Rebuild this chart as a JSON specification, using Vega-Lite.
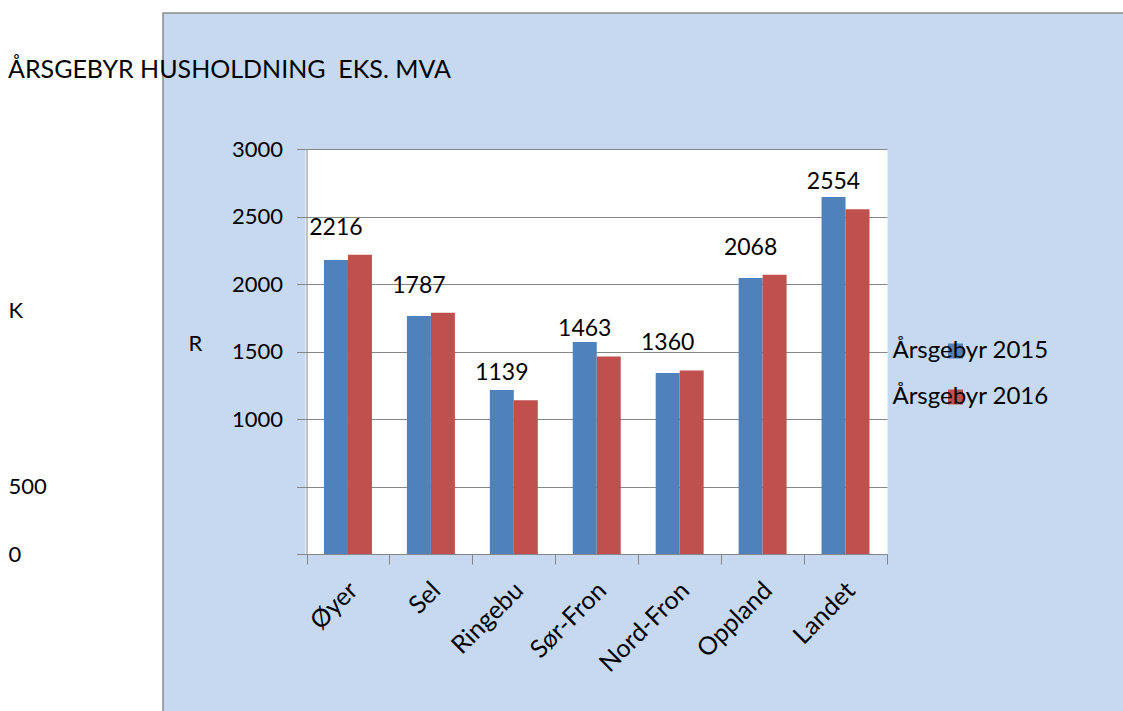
{
  "$schema": "https://vega.github.io/schema/vega-lite/v6.json",
  "autosize": "none",
  "padding": {"left": 163, "top": 13, "right": 0, "bottom": 0},
  "width": 961,
  "height": 699,
  "background": "white",
  "config": {
    "font": "Lato",
    "view": {"fill": "#c6d9f0", "stroke": "#8a8a8a", "strokeWidth": 1.5}
  },
  "title": {
    "text": "ÅRSGEBYR HUSHOLDNING \u00a0EKS. MVA",
    "anchor": "start",
    "frame": "group",
    "orient": "top",
    "offset": 0,
    "dx": -155,
    "dy": 82,
    "baseline": "middle",
    "fontSize": 25,
    "fontWeight": "normal",
    "color": "black",
    "font": "Lato"
  },
  "data": {
    "values": [
      {"kommune": "Øyer", "serie": "Årsgebyr 2015", "gebyr": 2178},
      {"kommune": "Øyer", "serie": "Årsgebyr 2016", "gebyr": 2216},
      {"kommune": "Sel", "serie": "Årsgebyr 2015", "gebyr": 1763},
      {"kommune": "Sel", "serie": "Årsgebyr 2016", "gebyr": 1787},
      {"kommune": "Ringebu", "serie": "Årsgebyr 2015", "gebyr": 1215},
      {"kommune": "Ringebu", "serie": "Årsgebyr 2016", "gebyr": 1139},
      {"kommune": "Sør-Fron", "serie": "Årsgebyr 2015", "gebyr": 1570},
      {"kommune": "Sør-Fron", "serie": "Årsgebyr 2016", "gebyr": 1463},
      {"kommune": "Nord-Fron", "serie": "Årsgebyr 2015", "gebyr": 1341},
      {"kommune": "Nord-Fron", "serie": "Årsgebyr 2016", "gebyr": 1360},
      {"kommune": "Oppland", "serie": "Årsgebyr 2015", "gebyr": 2044},
      {"kommune": "Oppland", "serie": "Årsgebyr 2016", "gebyr": 2068},
      {"kommune": "Landet", "serie": "Årsgebyr 2015", "gebyr": 2644},
      {"kommune": "Landet", "serie": "Årsgebyr 2016", "gebyr": 2554}
    ]
  },
  "layer": [
    {
      "mark": {"type": "bar"},
      "encoding": {
        "x": {
          "field": "kommune", "type": "nominal", "sort": null,
          "scale": {"domain": ["Øyer", "Sel", "Ringebu", "Sør-Fron", "Nord-Fron", "Oppland", "Landet"], "range": [143.5, 724], "paddingInner": 0, "paddingOuter": 0},
          "axis": {
            "orient": "bottom", "offset": -158, "tickBand": "extent", "tickSize": 10,
            "tickColor": "#868686", "domainColor": "#868686", "labelAngle": -45,
            "labelAlign": "right", "labelBaseline": "middle", "labelFontSize": 25,
            "labelColor": "black", "labelPadding": 22, "labelOffset": 5, "title": null, "grid": false
          }
        },
        "xOffset": {"field": "serie", "type": "nominal", "scale": {"paddingInner": 0, "paddingOuter": 0.729}},
        "y": {
          "field": "gebyr", "type": "quantitative",
          "scale": {"domain": [0, 3000], "range": [541, 136], "nice": false, "zero": true},
          "axis": {
            "orient": "left", "offset": -143.5, "values": [0, 500, 1000, 1500, 2000, 2500, 3000],
            "labelExpr": "datum.value >= 1000 ? datum.label : ''", "format": "d",
            "labelFontSize": 22, "labelColor": "black", "labelPadding": 14, "tickSize": 10,
            "tickColor": "#868686", "domainColor": "#868686", "grid": true, "gridColor": "#868686",
            "title": "R", "titleAngle": 0, "titleX": -118.5, "titleY": 330, "titleFontSize": 22,
            "titleFontWeight": "normal", "titleAlign": "left", "titleBaseline": "middle", "titleColor": "black"
          }
        },
        "color": {
          "field": "serie", "type": "nominal",
          "scale": {"domain": ["Årsgebyr 2015", "Årsgebyr 2016"], "range": ["#4f81bd", "#c0504d"]},
          "legend": {
            "orient": "none", "legendX": 780.5, "legendY": 326, "title": null,
            "symbolType": "square", "symbolSize": 225, "symbolStrokeWidth": 0,
            "labelOffset": -75, "labelFontSize": 24, "labelColor": "black", "rowPadding": 22
          }
        }
      }
    },
    {
      "transform": [{"filter": "datum.serie === 'Årsgebyr 2016'"}],
      "mark": {"type": "text", "dy": -27, "dx": -12, "fontSize": 23, "color": "black", "baseline": "middle", "align": "center"},
      "encoding": {
        "x": {
          "field": "kommune", "type": "nominal", "sort": null,
          "axis": {"orient": "top", "offset": 0, "tickBand": "center", "grid": true, "gridColor": "white", "gridOpacity": 1, "gridWidth": 84, "ticks": false, "labels": false, "domain": false, "title": null}
        },
        "y": {
          "field": "gebyr", "type": "quantitative",
          "axis": {
            "orient": "left", "offset": 0, "values": [0, 500], "labelAlign": "left",
            "labelPadding": 155, "ticks": false, "tickSize": 0, "domain": false, "grid": false,
            "labelFontSize": 22, "labelColor": "black", "labelBaseline": "middle",
            "title": "K", "titleX": -155, "titleY": 297, "titleAngle": 0, "titleAlign": "left",
            "titleBaseline": "middle", "titleFontSize": 22, "titleFontWeight": "normal", "titleColor": "black"
          }
        },
        "text": {"field": "gebyr", "type": "quantitative", "format": "d"}
      }
    }
  ],
  "resolve": {"axis": {"x": "independent", "y": "independent"}}
}
